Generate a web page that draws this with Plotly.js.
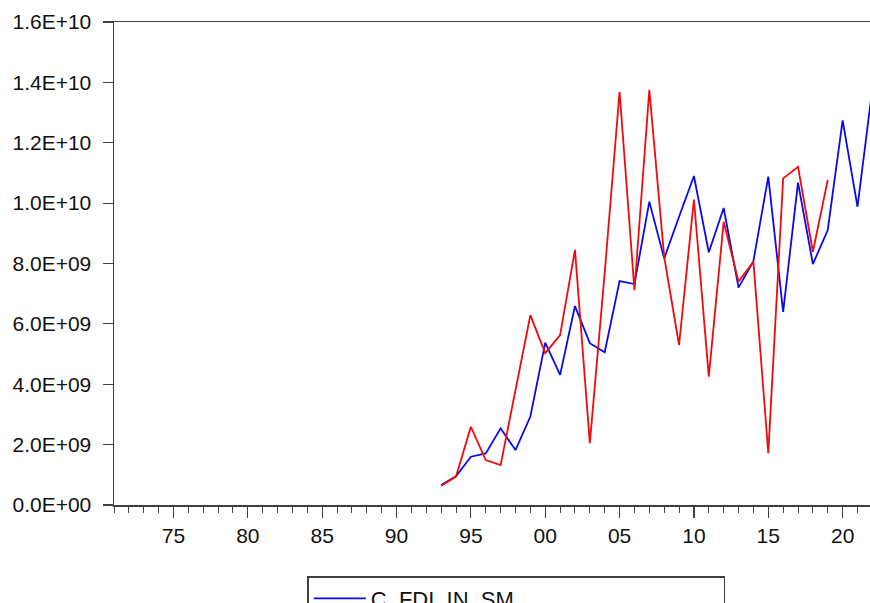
<!DOCTYPE html>
<html>
<head>
<meta charset="utf-8">
<script src="https://cdn.plot.ly/plotly-3.0.1.min.js"></script>
<style>html,body{margin:0;padding:0;background:#fff;}#chart{width:870px;height:603px;}</style>
</head>
<body>
<div id="chart"></div>
<script>
// Years of observation
var years = [1993,1994,1995,1996,1997,1998,1999,2000,2001,2002,2003,2004,2005,2006,2007,
             2008,2009,2010,2011,2012,2013,2014,2015,2016,2017,2018,2019,2020,2021,2022];
// C_FDI_IN_SM (blue)
var fdiSm = [0.66e9,0.95e9,1.60e9,1.71e9,2.54e9,1.82e9,2.93e9,5.38e9,4.31e9,6.59e9,5.36e9,5.06e9,7.42e9,7.32e9,10.05e9,
             8.17e9,9.55e9,10.90e9,8.37e9,9.84e9,7.20e9,8.08e9,10.88e9,6.40e9,10.68e9,7.98e9,9.11e9,12.74e9,9.88e9,13.8e9];
// Second series (red)
var fdiIn = [0.64e9,0.94e9,2.59e9,1.49e9,1.32e9,3.8e9,6.29e9,5.03e9,5.63e9,8.45e9,2.05e9,7.7e9,13.69e9,7.12e9,13.75e9,
             8.22e9,5.30e9,10.12e9,4.25e9,9.38e9,7.40e9,8.06e9,1.72e9,10.82e9,11.20e9,8.39e9,10.77e9,null,null,null];
// Axis tick labels
var yTickVals = [0,2e9,4e9,6e9,8e9,10e9,12e9,14e9,16e9];
var yTickText = ['0.0E+00','2.0E+09','4.0E+09','6.0E+09','8.0E+09','1.0E+10','1.2E+10','1.4E+10','1.6E+10'];
var xTickVals = [1975,1980,1985,1990,1995,2000,2005,2010,2015,2020];
var xTickText = ['75','80','85','90','95','00','05','10','15','20'];
var seriesNames = ['C_FDI_IN_SM','C_FDI_IN'];

var axisColor = '#404040';
var font = {family: 'Liberation Sans, Arial, sans-serif', size: 21, color: '#111'};
var legendFont = {family: 'Liberation Sans, Arial, sans-serif', size: 22, color: '#111'};

var traces = [
  {x: years, y: fdiSm, name: seriesNames[0], type: 'scatter', mode: 'lines',
   line: {color: 'rgb(10,10,235)', width: 1.8}, connectgaps: false},
  {x: years, y: fdiIn, name: seriesNames[1], type: 'scatter', mode: 'lines',
   line: {color: 'rgb(240,10,10)', width: 1.8}, connectgaps: false}
];

var layout = {
  width: 870, height: 603,
  margin: {l: 114, r: 0, t: 22, b: 98, autoexpand: false},
  paper_bgcolor: '#fff', plot_bgcolor: '#fff',
  font: font,
  showlegend: true,
  legend: {
    orientation: 'h', x: 0.2557, xanchor: 'left', y: -0.147, yanchor: 'top',
    bordercolor: axisColor, borderwidth: 1.5, bgcolor: '#fff',
    entrywidth: 348, entrywidthmode: 'pixels', itemwidth: 52,
    font: legendFont, traceorder: 'normal'
  },
  xaxis: {
    range: [1971, 1971 + 756/14.87],
    showgrid: false, zeroline: false,
    showline: true, linecolor: axisColor, linewidth: 1.5, mirror: true,
    ticks: 'outside', ticklen: 11, tickwidth: 1.2, tickcolor: axisColor,
    tickmode: 'array', tickvals: xTickVals, ticktext: xTickText,
    ticklabelstandoff: 0,
    minor: {dtick: 1, tick0: 1971, ticks: 'outside', ticklen: 6, tickwidth: 1, tickcolor: axisColor, showgrid: false},
    tickfont: font
  },
  yaxis: {
    range: [0, 1.6e10],
    showgrid: false, zeroline: false,
    showline: true, linecolor: axisColor, linewidth: 1.5, mirror: false,
    ticks: 'outside', ticklen: 10, tickwidth: 1.2, tickcolor: axisColor,
    tickmode: 'array', tickvals: yTickVals, ticktext: yTickText,
    ticklabelstandoff: 7,
    tickfont: font
  }
};

Plotly.newPlot('chart', traces, layout, {displayModeBar: false, staticPlot: true});
</script>
</body>
</html>
